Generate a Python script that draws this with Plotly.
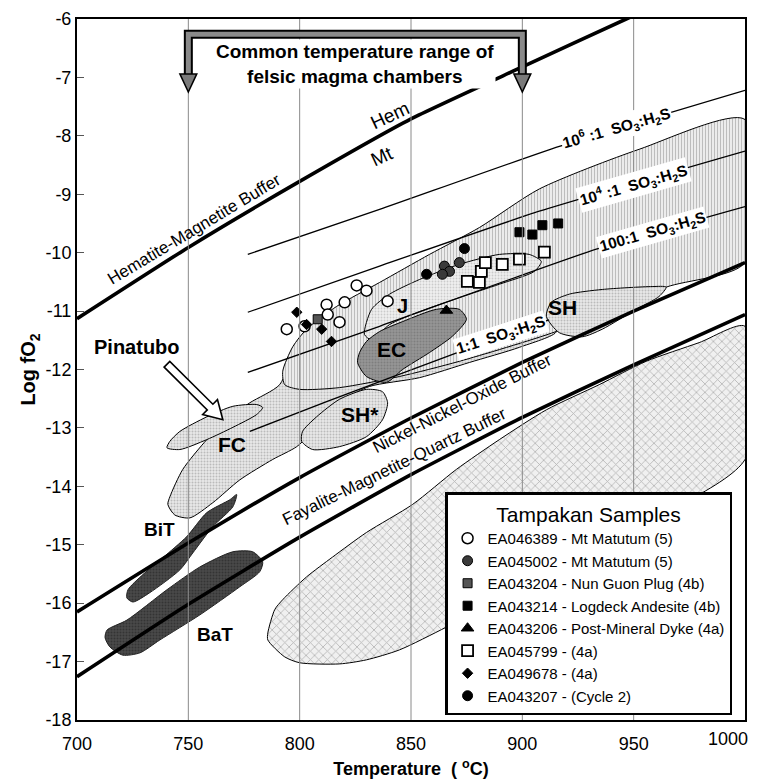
import plotly.graph_objects as go

FONT = "Liberation Sans, Arial, sans-serif"

# ---------------- axes ----------------
x_ticks = [700, 750, 800, 850, 900, 950, 1000]
y_ticks = [-18, -17, -16, -15, -14, -13, -12, -11, -10, -9, -8, -7, -6]

# ---------------- buffer curves (Temperature, log fO2) ----------------
hm_T = [700, 750, 800, 850, 900, 946.6, 960]
hm_f = [-11.13, -9.91, -8.78, -7.71, -6.82, -6.0, -5.78]
nno_T = [700, 750, 800, 850, 900, 950, 1000]
nno_f = [-16.15, -14.97, -13.85, -12.83, -11.88, -11.0, -10.17]
fmq_T = [700, 750, 800, 850, 900, 950, 1000]
fmq_f = [-17.26, -16.02, -14.87, -13.8, -12.82, -11.92, -11.06]

# ---------------- SO3:H2S ratio lines ----------------
r6_T = [776.7, 835.9, 916.6, 1000]
r6_f = [-10.03, -9.26, -8.18, -7.22]
r4_T = [776.7, 835.9, 907.6, 1000]
r4_f = [-11.02, -10.23, -9.29, -8.26]
r2_T = [776.7, 835.9, 933.2, 1000]
r2_f = [-12.05, -11.26, -9.94, -9.21]
r0_T = [777.6, 812.1, 871.7, 912.0]
r0_f = [-13.06, -12.55, -11.7, -11.15]

# ---------------- field outlines ----------------
xh_T = [785.7, 788.8, 792.4, 803.1, 814.8, 830.0, 850.7, 870.4, 889.7, 910.8, 934.5, 955.6, 979.4, 1000,
        1000, 934.5, 889.7, 865.9, 844.8, 830.0, 817.9, 800.0, 793.3, 785.7]
xh_f = [-16.51, -16.11, -15.94, -15.55, -15.21, -14.79, -14.31, -13.71, -13.20, -12.69, -12.26, -11.86, -11.54, -11.26,
        -13.54, -15.00, -15.94, -16.41, -16.80, -16.97, -17.04, -17.02, -16.92, -16.63]

fc_T = [740.8, 743.9, 750.7, 761.0, 773.1, 787.9, 798.7, 809.0, 820.2, 831.4, 853.8, 876.2, 898.7, 915.2,
        880.7, 835.9, 809.0, 797.8, 791.0, 777.6, 767.3, 758.3, 747.5, 741.7]
fc_f = [-14.31, -14.49, -14.54, -14.28, -13.89, -13.54, -13.32, -12.94, -12.51, -12.29, -12.14, -11.88, -11.62, -11.35,
        -10.80, -10.80, -11.14, -11.66, -12.26, -12.57, -12.86, -13.20, -13.71, -14.18]

hat_T = [792.4, 796.9, 803.1, 816.6, 835.9, 858.3, 880.7, 907.6, 952.5, 1000,
         1000, 964.6, 915.2, 871.7, 844.8, 817.9, 800.0, 793.3]
hat_f = [-12.03, -11.61, -11.31, -10.92, -10.51, -10.03, -9.57, -8.91, -8.23, -7.72,
         -10.17, -10.59, -11.35, -11.86, -12.12, -12.31, -12.34, -12.26]

j_T = [829.1, 832.3, 840.4, 853.8, 871.7, 889.7, 903.1, 908.5, 905.4, 889.7, 871.7, 853.8, 840.4, 832.3]
j_f = [-11.40, -10.97, -10.71, -10.46, -10.20, -10.03, -10.03, -10.15, -10.32, -10.54, -10.77, -11.01, -11.23, -11.49]

pin_T = [740.4, 746.2, 758.3, 770.0, 780.7, 783.4, 780.7, 770.0, 758.3, 746.2, 741.7]
pin_f = [-13.34, -13.37, -13.20, -12.99, -12.77, -12.65, -12.60, -12.63, -12.81, -13.06, -13.23]

shs_T = [800.9, 805.8, 817.9, 830.0, 837.2, 839.5, 837.2, 830.0, 817.9, 807.6, 801.3]
shs_f = [-13.23, -13.37, -13.32, -13.15, -12.86, -12.57, -12.38, -12.34, -12.51, -12.81, -13.06]

sh_T = [910.8, 916.6, 926.9, 935.9, 951.1, 961.4, 964.6, 958.3, 935.9, 921.1, 913.0]
sh_f = [-11.09, -11.37, -11.44, -11.31, -10.97, -10.75, -10.59, -10.58, -10.63, -10.71, -10.85]

ec_T = [826.0, 830.0, 839.0, 846.2, 858.3, 868.6, 874.9, 871.7, 861.4, 846.2, 835.9, 830.0, 826.9]
ec_f = [-11.88, -12.12, -12.22, -12.00, -11.71, -11.43, -11.14, -10.97, -10.97, -11.18, -11.35, -11.52, -11.71]

bit_T = [722.4, 722.9, 729.6, 738.6, 749.3, 758.3, 768.6, 771.7, 770.0, 761.0, 752.0, 746.2, 732.7, 725.1]
bit_f = [-15.91, -15.77, -15.51, -15.22, -14.86, -14.45, -14.23, -14.14, -14.35, -14.69, -15.14, -15.43, -15.82, -15.98]

bat_T = [712.6, 713.5, 722.4, 740.4, 755.2, 770.0, 778.9, 783.4, 782.1, 773.1, 755.2, 737.2, 728.3, 720.6, 714.8]
bat_f = [-16.59, -16.46, -16.29, -15.77, -15.38, -15.12, -15.12, -15.29, -15.46, -15.72, -16.20, -16.63, -16.85, -16.89, -16.75]

# Pinatubo pointer: tail and tip (Temperature, log fO2)
arrow_tail = (740.4, -11.91)
arrow_tip = (765.5, -12.86)

# ---------------- Tampakan samples ----------------
s_names = ["EA046389 - Mt Matutum (5)", "EA045002 - Mt Matutum (5)", "EA043204 - Nun Guon Plug (4b)",
           "EA043214 - Logdeck Andesite (4b)", "EA043206 - Post-Mineral Dyke (4a)", "EA045799 - (4a)",
           "EA049678 - (4a)", "EA043207 - (Cycle 2)"]
s1_T = [794.2, 802.2, 812.1, 820.2, 825.6, 830.0, 817.9, 812.6, 839.5]
s1_f = [-11.31, -11.26, -10.89, -10.85, -10.56, -10.65, -11.19, -11.06, -10.83]
s2_T = [865.0, 871.7, 867.3, 864.1]
s2_f = [-10.23, -10.17, -10.32, -10.37]
s3_T = [808.1]
s3_f = [-11.14]
s4_T = [898.7, 904.5, 909.0, 916.1]
s4_f = [-9.65, -9.69, -9.53, -9.50]
s5_T = [865.9]
s5_f = [-10.99]
s6_T = [875.3, 880.7, 881.6, 883.4, 891.0, 898.7, 909.9]
s6_f = [-10.49, -10.51, -10.32, -10.17, -10.20, -10.11, -9.99]
s7_T = [798.7, 803.1, 809.9, 814.3]
s7_f = [-11.02, -11.23, -11.31, -11.52]
s8_T = [874.0, 857.0]
s8_f = [-9.93, -10.37]

# ---------------- layout geometry ----------------
W, H = 764, 782
ML, MR, MT, MB = 77, 19, 19, 62
XR = [700, 1000]
YR = [-18, -6]
px_per_T = (W - ML - MR) / (XR[1] - XR[0])
px_per_f = (H - MT - MB) / (YR[1] - YR[0])

fig = go.Figure()


def region(T, f, fillc, pattern=None, lc="black", lw=1.0):
    fig.add_trace(go.Scatter(
        x=T + [T[0]], y=f + [f[0]], mode="lines",
        line=dict(color=lc, width=lw, shape="spline", smoothing=0.7),
        fill="toself", fillcolor=fillc, fillpattern=pattern,
        showlegend=False, hoverinfo="skip"))


stip = dict(shape=".", fgcolor="#8e8e8e", bgcolor="#e8e8e8", size=3, solidity=0.35)
stip_light = dict(shape=".", fgcolor="#a8a8a8", bgcolor="#efefef", size=3, solidity=0.3)
vhatch = dict(shape="|", fgcolor="#8a8a8a", bgcolor="#f1f1f1", size=3, solidity=0.4)
xhatch = dict(shape="x", fgcolor="#777777", bgcolor="#f0f0f0", size=6, solidity=0.25)
darkp = dict(shape=".", fgcolor="#1e1e1e", bgcolor="#4a4a4a", size=3, solidity=0.4)
ecp = dict(shape=".", fgcolor="#666666", bgcolor="#969696", size=3, solidity=0.35)

region(xh_T, xh_f, "#f0f0f0", xhatch)
region(fc_T, fc_f, "#e8e8e8", stip)
region(hat_T, hat_f, "#f1f1f1", vhatch)
region(j_T, j_f, "#efefef", stip_light)
region(pin_T, pin_f, "#e8e8e8", stip)
region(shs_T, shs_f, "#e8e8e8", stip)
region(sh_T, sh_f, "#e8e8e8", stip)
region(ec_T, ec_f, "#969696", ecp)
region(bit_T, bit_f, "#404040", darkp, lc="#222", lw=1)
region(bat_T, bat_f, "#404040", darkp, lc="#222", lw=1)


def curve(T, f, w):
    fig.add_trace(go.Scatter(x=T, y=f, mode="lines",
                             line=dict(color="black", width=w, shape="spline", smoothing=0.5),
                             showlegend=False, hoverinfo="skip"))


for T, f in [(r6_T, r6_f), (r4_T, r4_f), (r2_T, r2_f), (r0_T, r0_f)]:
    curve(T, f, 1.3)
for T, f in [(hm_T, hm_f), (nno_T, nno_f), (fmq_T, fmq_f)]:
    curve(T, f, 3.6)

# samples
styles = [
    dict(symbol="circle", size=11, color="white", line=dict(color="black", width=1.5)),
    dict(symbol="circle", size=10, color="#3a3a3a", line=dict(color="black", width=1)),
    dict(symbol="square", size=9, color="#555555", line=dict(color="black", width=1)),
    dict(symbol="square", size=9, color="black", line=dict(color="black", width=1)),
    dict(symbol="triangle-up", size=11, color="black", line=dict(color="black", width=1)),
    dict(symbol="square", size=11, color="white", line=dict(color="black", width=1.8)),
    dict(symbol="diamond", size=8, color="black", line=dict(color="black", width=1)),
    dict(symbol="circle", size=10, color="black", line=dict(color="black", width=1)),
]
sample_T = [s1_T, s2_T, s3_T, s4_T, s5_T, s6_T, s7_T, s8_T]
sample_f = [s1_f, s2_f, s3_f, s4_f, s5_f, s6_f, s7_f, s8_f]
for name, T, f, st in zip(s_names, sample_T, sample_f, styles):
    fig.add_trace(go.Scatter(x=T, y=f, mode="markers", name=name, marker=st, hoverinfo="skip"))

# ---------------- shapes ----------------
shapes = []
for t in x_ticks[1:-1]:
    shapes.append(dict(type="line", xref="x", yref="y", x0=t, x1=t, y0=YR[0], y1=YR[1],
                       line=dict(color="#8a8a8a", width=1), layer="above"))

b0, b1 = 750, 900
top, base, tip = -6.26, -6.94, -7.25
bracket = f"M {b0},{base} L {b0},{top} L {b1},{top} L {b1},{base}"
shapes.append(dict(type="path", xref="x", yref="y", path=bracket,
                   line=dict(color="black", width=9), layer="above"))
shapes.append(dict(type="path", xref="x", yref="y", path=bracket,
                   line=dict(color="#8a8a8a", width=5), layer="above"))
for b in (b0, b1):
    shapes.append(dict(type="path", xref="x", yref="y",
                       path=f"M {b-3.8},{base} L {b+3.8},{base} L {b},{tip} Z",
                       fillcolor="#7a7a7a", line=dict(color="black", width=1.5), layer="above"))

# hollow arrow (outline) built in pixel space, converted to data units
dxp = (arrow_tip[0] - arrow_tail[0]) * px_per_T
dyp = -(arrow_tip[1] - arrow_tail[1]) * px_per_f
L = (dxp ** 2 + dyp ** 2) ** 0.5
ux, uy = dxp / L, dyp / L
nx, ny = -uy, ux
shaft, headw, headl = 4.0, 10.5, 18.0
pts_px = [
    (nx * shaft, ny * shaft),
    (ux * (L - headl) + nx * shaft, uy * (L - headl) + ny * shaft),
    (ux * (L - headl) + nx * headw, uy * (L - headl) + ny * headw),
    (ux * L, uy * L),
    (ux * (L - headl) - nx * headw, uy * (L - headl) - ny * headw),
    (ux * (L - headl) - nx * shaft, uy * (L - headl) - ny * shaft),
    (-nx * shaft, -ny * shaft),
]
pts = [(arrow_tail[0] + px / px_per_T, arrow_tail[1] - py / px_per_f) for px, py in pts_px]
apath = "M " + " L ".join(f"{a:.3f},{b:.4f}" for a, b in pts) + " Z"
shapes.append(dict(type="path", xref="x", yref="y", path=apath, fillcolor="white",
                   line=dict(color="black", width=1.6), layer="above"))

# ---------------- annotations ----------------
ann = []


def label(x, y, text, size=18, bold=True, angle=0, bg=None):
    t = f"<b>{text}</b>" if bold else text
    d = dict(x=x, y=y, xref="x", yref="y", text=t, showarrow=False, textangle=angle,
             font=dict(family=FONT, size=size, color="black"))
    if bg:
        d["bgcolor"] = bg
        d["borderpad"] = 1
    ann.append(d)


label(824.7, -6.77, "Common temperature range of<br>felsic magma chambers", size=19, bg="white")
label(840.4, -7.66, "Hem", size=19, bold=False, angle=-25)
label(836.8, -8.35, "Mt", size=19, bold=False, angle=-25)
label(752.5, -9.6, "Hematite-Magnetite Buffer", size=17, bold=False, angle=-31)
label(873.1, -12.58, "Nickel-Nickel-Oxide Buffer", size=17, bold=False, angle=-27)
label(842.6, -13.66, "Fayalite-Magnetite-Quartz Buffer", size=17, bold=False, angle=-26)
label(942.2, -7.87, "10<sup>6</sup> :1  SO<sub>3</sub>:H<sub>2</sub>S", size=15.5, angle=-16, bg="white")
label(949.8, -8.84, "10<sup>4</sup> :1  SO<sub>3</sub>:H<sub>2</sub>S", size=15.5, angle=-16, bg="white")
label(958.3, -9.65, "100:1  SO<sub>3</sub>:H<sub>2</sub>S", size=15.5, angle=-16, bg="white")
label(890.6, -11.42, "1:1  SO<sub>3</sub>:H<sub>2</sub>S", size=15.5, angle=-18, bg="white")
label(846.2, -10.92, "J", size=20)
label(841.3, -11.66, "EC", size=21)
label(917.9, -10.94, "SH", size=21)
label(826.9, -12.77, "SH*", size=21)
label(769.5, -13.29, "FC", size=21)
label(726.9, -11.62, "Pinatubo", size=20)
label(737.2, -14.74, "BiT", size=19)
label(761.9, -16.54, "BaT", size=19)

# last x tick label sits inside the right edge, as in the source figure
ann.append(dict(x=x_ticks[-1], y=YR[0], xref="x", yref="y", text=str(x_ticks[-1]), showarrow=False,
                xanchor="right", yanchor="top", xshift=5, yshift=-7,
                font=dict(family=FONT, size=18, color="black")))

fig.update_layout(
    width=W, height=H,
    margin=dict(l=ML, r=MR, t=MT, b=MB),
    paper_bgcolor="white", plot_bgcolor="white",
    font=dict(family=FONT, color="black"),
    shapes=shapes, annotations=ann,
    xaxis=dict(range=XR, tickvals=x_ticks[:-1], ticktext=[str(v) for v in x_ticks[:-1]],
               showgrid=False, zeroline=False, showline=True, linecolor="black", linewidth=2,
               mirror=True, ticks="", tickfont=dict(size=18), ticklabelstandoff=6, automargin=False,
               title=dict(text="<b>Temperature  ( <sup>o</sup>C)</b>", font=dict(size=18), standoff=10)),
    yaxis=dict(range=YR, tickvals=y_ticks, ticktext=[str(v) for v in y_ticks], automargin=False,
               showgrid=False, zeroline=False, showline=True, linecolor="black", linewidth=2,
               mirror=True, ticks="inside", ticklen=7, tickcolor="#555", tickfont=dict(size=18),
               title=dict(text="<b>Log fO<sub>2</sub></b>", font=dict(size=20), standoff=4)),
    legend=dict(x=0.551, y=0.325, xanchor="left", yanchor="top", bgcolor="white",
                bordercolor="black", borderwidth=2.5, tracegroupgap=0,
                font=dict(family=FONT, size=15, color="black"),
                title=dict(text="Tampakan Samples", font=dict(size=21), side="top center")),
)

fig.write_html("out.html")
